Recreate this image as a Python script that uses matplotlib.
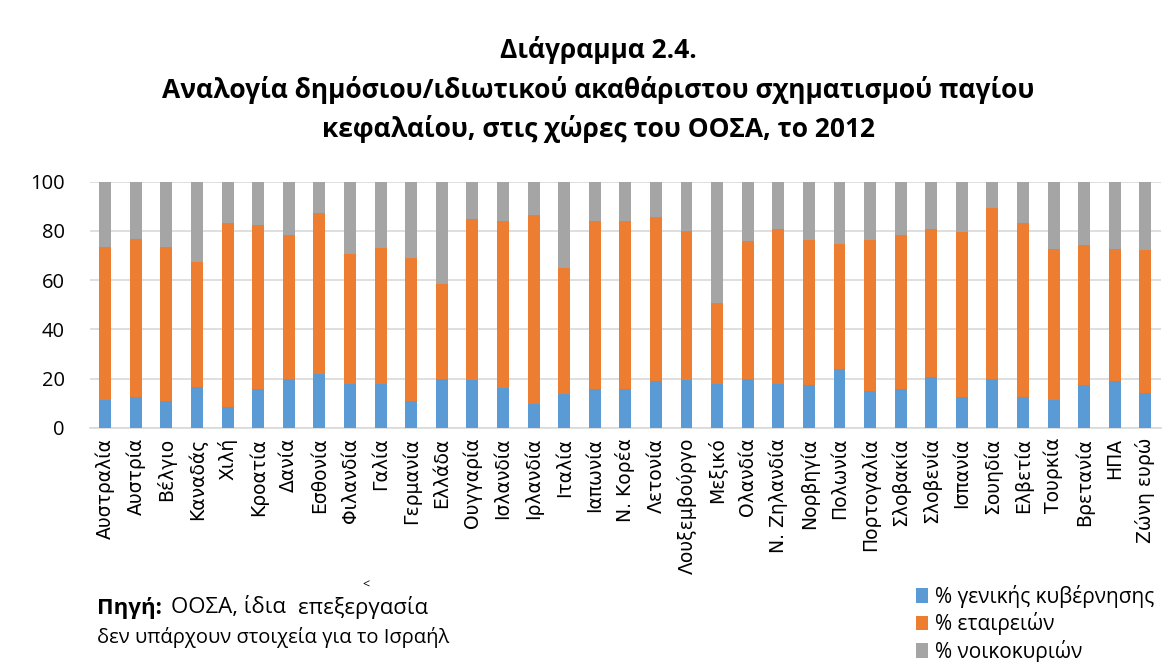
import matplotlib.pyplot as plt
import numpy as np

# ---- data ----
countries = ['Αυστραλία', 'Αυστρία', 'Βέλγιο', 'Καναδάς', 'Χιλή', 'Κροατία', 'Δανία',
             'Εσθονία', 'Φιλανδία', 'Γαλία', 'Γερμανία', 'Ελλάδα', 'Ουγγαρία', 'Ισλανδία',
             'Ιρλανδία', 'Ιταλία', 'Ιαπωνία', 'Ν. Κορέα', 'Λετονία', 'Λουξεμβούργο',
             'Μεξικό', 'Ολανδία', 'Ν. Ζηλανδία', 'Νορβηγία', 'Πολωνία', 'Πορτογαλία',
             'Σλοβακία', 'Σλοβενία', 'Ισπανία', 'Σουηδία', 'Ελβετία', 'Τουρκία',
             'Βρετανία', 'ΗΠΑ', 'Ζώνη ευρώ']

govt = [11.5, 12.5, 11.0, 16.7, 8.4, 15.8, 19.8, 22.0, 17.9, 17.9, 11.0, 19.8,
        19.4, 16.3, 9.9, 13.6, 15.8, 15.8, 18.9, 19.4, 17.9, 19.8, 17.9, 17.3,
        24.0, 15.2, 15.8, 20.9, 12.5, 19.8, 12.5, 11.5, 17.3, 18.9, 14.1]

# cumulative top of the orange segment
gov_plus_corp = [73.6, 76.9, 73.6, 67.5, 83.2, 82.6, 78.4, 87.4, 70.5, 73.2, 69.0, 58.6,
                 84.8, 84.2, 86.3, 64.8, 84.2, 84.2, 85.7, 80.0, 50.7, 75.8, 81.0, 76.4,
                 74.9, 76.4, 78.4, 81.0, 79.5, 89.4, 83.2, 72.7, 74.2, 72.7, 72.1]

corp = [round(t - g, 1) for t, g in zip(gov_plus_corp, govt)]
households = [round(100 - t, 1) for t in gov_plus_corp]

series_names = ['% γενικής κυβέρνησης', '% εταιρειών', '% νοικοκυριών']
colors = ['#5B9BD5', '#ED7D31', '#A5A5A5']

plt.rcParams['font.family'] = ['Open Sans', 'DejaVu Sans']

fig = plt.figure(figsize=(11.76, 6.62), dpi=100)
ax = fig.add_axes([0.0765, 0.3535, 0.9105, 0.372])

x = np.arange(len(countries))
w = 0.39
ax.bar(x, govt, w, color=colors[0], label=series_names[0], zorder=3)
ax.bar(x, corp, w, bottom=govt, color=colors[1], label=series_names[1], zorder=3)
ax.bar(x, households, w, bottom=gov_plus_corp, color=colors[2], label=series_names[2], zorder=3)

ax.set_xlim(-0.5, len(countries) - 0.5)
ax.set_ylim(0, 100)
ax.set_yticks(range(0, 101, 20))
ax.yaxis.grid(True, color='#D9D9D9', linewidth=1.2, zorder=0)
for s in ['top', 'right', 'left']:
    ax.spines[s].set_visible(False)
ax.spines['bottom'].set_color('#D9D9D9')
ax.spines['bottom'].set_linewidth(1.2)
ax.tick_params(axis='both', length=0)
ax.tick_params(axis='y', labelsize=14.5, pad=18)
ax.tick_params(axis='x', pad=7)
ax.set_xticks(x)
ax.set_xticklabels(countries, rotation=90, fontsize=13.5)
for lab in ax.get_xticklabels():
    lab.set_fontfamily('DejaVu Sans')

# ---- title ----
title_lines = ['Διάγραμμα 2.4.',
               'Αναλογία δημόσιου/ιδιωτικού ακαθάριστου σχηματισμού παγίου',
               'κεφαλαίου, στις χώρες του ΟΟΣΑ, το 2012']
for line, yy in zip(title_lines, [0.9245, 0.864, 0.805]):
    fig.text(0.509, yy, line, ha='center', va='center', fontsize=19, fontweight='bold')

# ---- source note ----
fig.text(0.0825, 0.082, 'Πηγή:', fontsize=16, fontweight='bold', va='center')
fig.text(0.145, 0.082, 'ΟΟΣΑ, ίδια', fontsize=16, va='center')
fig.text(0.253, 0.082, 'επεξεργασία', fontsize=16, va='center')
fig.text(0.0825, 0.037, 'δεν υπάρχουν στοιχεία για το Ισραήλ', fontsize=14.5, va='center')
fig.text(0.311, 0.117, '<', fontsize=9, va='center', ha='center')

# ---- legend ----
fig.legend(loc='upper left', bbox_to_anchor=(0.779, 0.117), frameon=False, fontsize=15,
           handlelength=0.55, handleheight=0.7, handletextpad=0.35, labelspacing=0.22,
           borderaxespad=0, borderpad=0)

fig.savefig('out.png', dpi=100)
